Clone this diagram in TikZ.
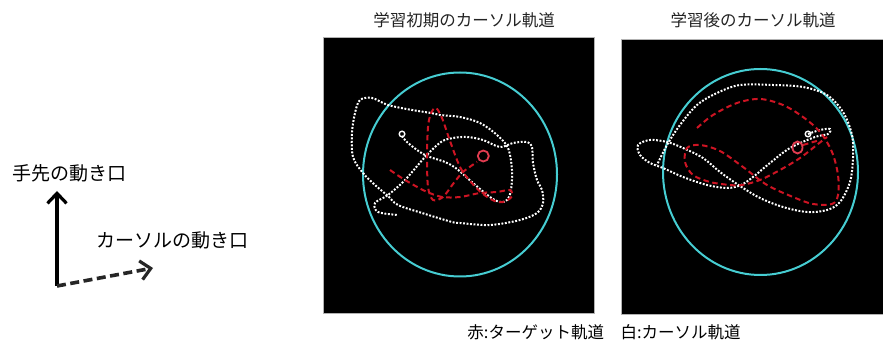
\documentclass[tikz,border=0pt]{standalone}
\usepackage{fontspec}
\setmainfont{Noto Sans CJK JP}
\usetikzlibrary{arrows.meta}
\definecolor{cyanring}{RGB}{70,205,210}
\definecolor{tgtred}{RGB}{205,20,35}
\definecolor{ringred}{RGB}{225,60,80}
\definecolor{txtgray}{RGB}{35,35,35}
\tikzset{
  panel/.style={fill=black, draw=gray!60, line width=0.6pt},
  ring/.style={draw=cyanring, line width=2pt},
  cursortrail/.style={draw=white, line width=2pt, dash pattern=on 1.9pt off 1.6pt},
  targettrail/.style={draw=tgtred, line width=2pt, dash pattern=on 5.5pt off 3.5pt},
  tgtmark/.style={draw=ringred, line width=1.8pt},
  curmark/.style={draw=white, line width=1.4pt},
  titletext/.style={text=txtgray, font=\fontsize{16.5}{20}\selectfont, inner sep=0pt},
  lbltext/.style={text=black, font=\fontsize{19}{22}\selectfont, inner sep=0pt, anchor=west},
  barb/.style={-{Straight Barb[length=10pt,width=19pt,line width=3.2pt]}},
}
\begin{document}
\begin{tikzpicture}[x=1pt,y=-1pt]
\useasboundingbox (0,0) rectangle (883,344);

% titles
\node[titletext] (t1) at (464,20) {学習初期のカーソル軌道};
\node[titletext] (t2) at (753,20) {学習後のカーソル軌道};

% left legend
\node[lbltext] (hand) at (12,173) {手先の動き口};
\node[lbltext] (curs) at (96,240) {カーソルの動き口};
\coordinate (o) at (57,286);
\coordinate (up) at (57,191);
\coordinate (rt) at (153,268);
\draw[line width=3.4pt, barb] (o) -- (up);
\draw[line width=3.6pt, draw=black!85, dash pattern=on 9pt off 4.5pt, barb] (o) -- (rt);

% bottom caption
\node[titletext, text=black] (cap) at (604,332) {赤:ターゲット軌道\hspace{1em}白:カーソル軌道};

% ---------- panel 1 ----------
\path[panel] (323,37) rectangle (594,313);
\draw[ring] (460,174.5) ellipse [x radius=97, y radius=102];
\draw[cursortrail] plot[smooth, tension=0.55] coordinates {
 (402,136) (408,143) (425,155) (445,162) (457,169) (473,183) (490,197) (500,202) (507,200) (511,190)
 (512,170) (508,148) (497,135) (480,123) (460,117) (440,115) (431,113) (412,110) (388,105)
 (372,98) (360,100) (355,113) (352,133) (353,157) (363,173) (375,185) (388,196) (398,205)
 (422,213) (452,222) (460,223) (490,225) (520,220) (537,213) (543,203) (542,190) (537,180)
 (533,163) (532,147) (527,142) (513,143) (500,147) (483,140) (467,137) (453,138) (441,142)
 (425,157) (405,180) (388,195) (375,203) (378,212) (398,215) };
\draw[targettrail] plot[smooth, tension=0.5] coordinates {
 (390,170) (405,180) (425,191) (442,197) (460,197) (480,193) (497,192) (510,190) (512,196)
 (506,201) (497,202) (483,194) (470,181) (460,167) (450,141) (442,118) (436,108) (431,113)
 (428,127) (427,157) (428,187) (433,200) (443,197) (453,184) (463,172) (477,162) };
\draw[tgtmark] (483.3,156) circle (5.5);
\draw[curmark] (402,134) circle (2.8);

% ---------- panel 2 ----------
\path[panel] (621,39) rectangle (884,314);
\draw[ring] (760.5,172) ellipse [x radius=97.5, y radius=103];
\draw[cursortrail] plot[smooth, tension=0.55] coordinates {
 (808,134) (820,130) (830,129) (828,134) (815,137) (790,148) (770,163) (753,177) (741,185)
 (727,188) (707,185) (683,177) (663,168) (650,163) (640,155) (638,145) (650,140) (667,142)
 (683,148) (703,158) (720,172) (740,186) (760,198) (783,207) (807,212) (827,210) (840,202)
 (850,182) (853,158) (852,135) (843,112) (827,95) (803,87) (773,85) (740,85) (717,93)
 (697,105) (680,125) (667,145) (657,165) };
\draw[targettrail] plot[smooth, tension=0.55] coordinates {
 (697,128) (713,115) (737,103) (760,99) (783,105) (803,117) (820,132) (832,152) (838,175)
 (838,195) (832,204) (813,204) (793,197) (767,185) (743,167) (720,151) (700,145) (687,148)
 (685,162) (693,175) (710,182) (730,185) (742,185) (760,180) (780,170) (800,158) (818,144) (827,137) };
\draw[targettrail] (803,145) -- (820,140);
\draw[tgtmark] (797.5,147.5) ellipse [x radius=5, y radius=6];
\draw[curmark] (808,134) circle (2.8);
\end{tikzpicture}
\end{document}
